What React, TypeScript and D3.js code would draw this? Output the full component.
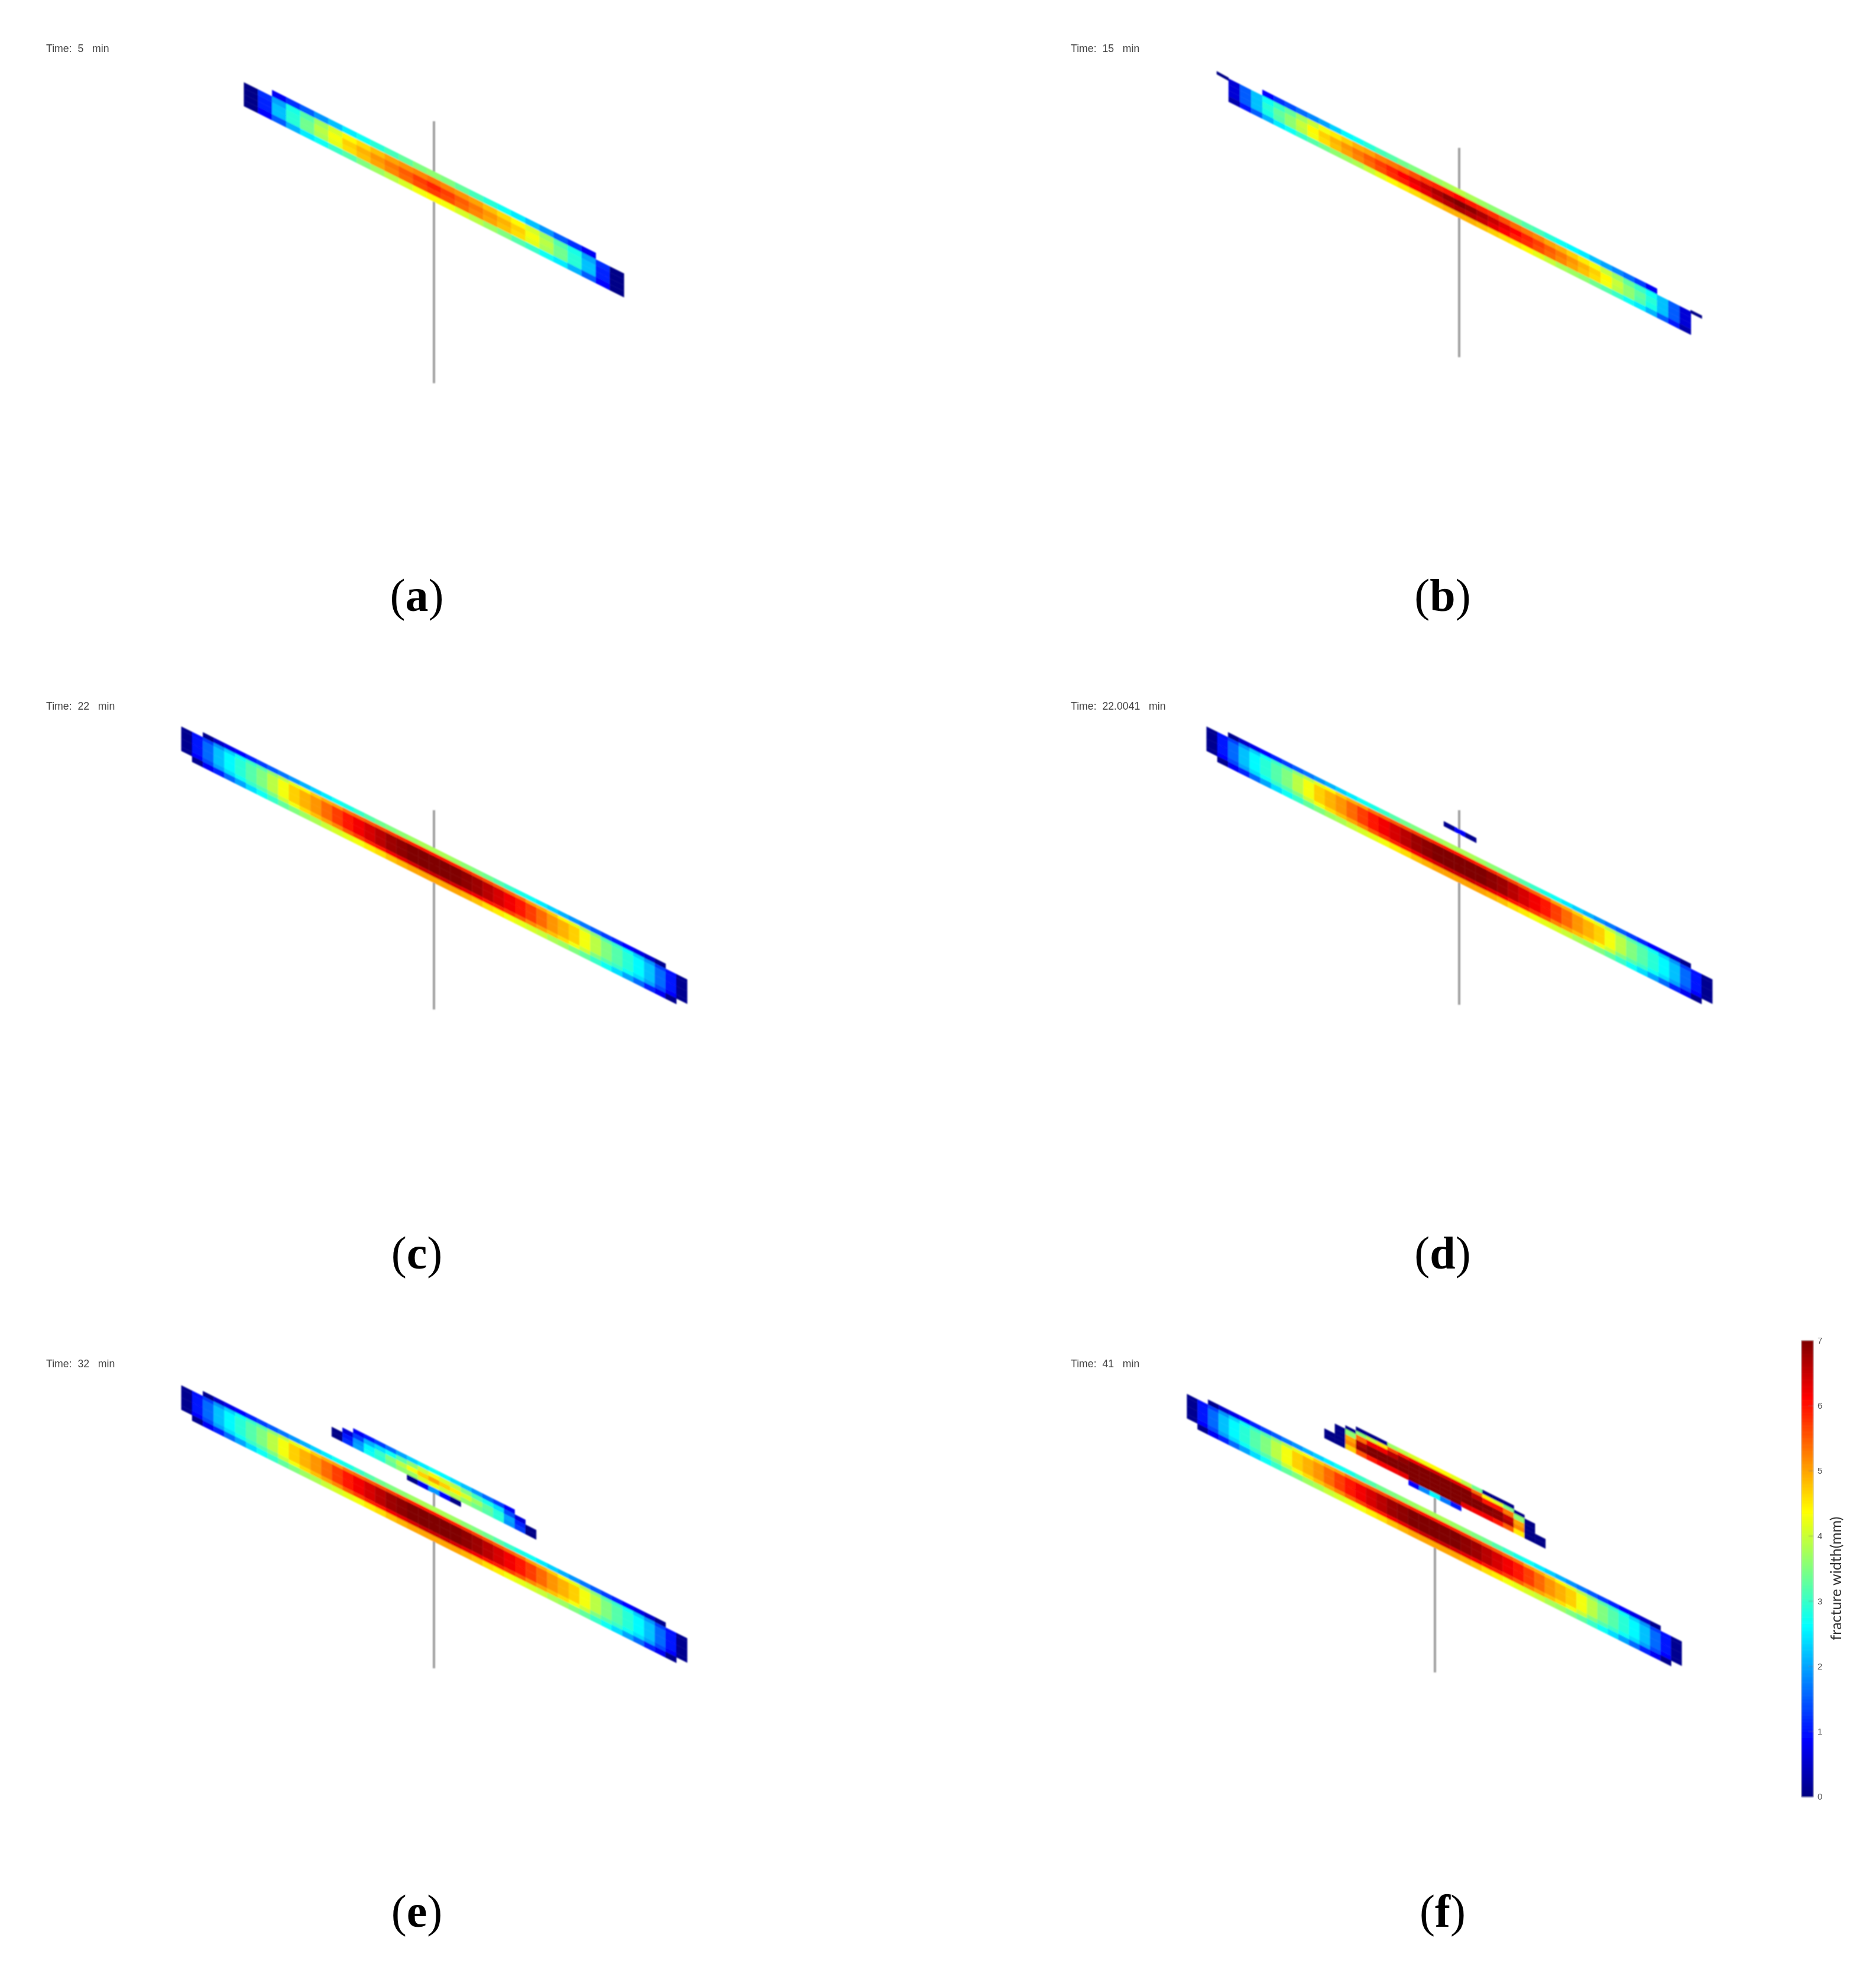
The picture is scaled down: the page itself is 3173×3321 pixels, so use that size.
import React, { useMemo } from 'react';
import * as d3 from 'd3';

const _ = null;

// fracture width (mm) per grid cell, one array per row, top row first
const aRows = [
  [_,_,.8,1.2,1.5,1.9,2.2,2.5,2.7,2.9,3.1,3.3,3.5,3.6,3.5,3.3,3.1,2.9,2.7,2.5,2.2,1.9,1.5,1.2,.8,_,_],
  [.05,1.2,2.0,2.8,3.2,3.7,4.1,4.4,4.6,4.8,5.0,5.1,5.2,5.3,5.2,5.1,5.0,4.8,4.6,4.4,4.1,3.7,3.2,2.8,2.0,1.2,.05],
  [.05,1.1,2.2,2.9,3.4,3.9,4.3,4.7,4.9,5.1,5.3,5.5,5.7,5.9,5.7,5.5,5.3,5.1,4.9,4.7,4.3,3.9,3.4,2.9,2.2,1.1,.05],
  [.05,1.1,2.2,2.9,3.4,3.8,4.2,4.6,4.8,5.0,5.2,5.4,5.6,5.7,5.6,5.4,5.2,5.0,4.8,4.6,4.2,3.8,3.4,2.9,2.2,1.1,.05],
  [.05,.9,1.5,2.1,2.5,2.7,3.0,3.2,3.5,3.7,3.9,4.1,4.3,4.4,4.3,4.1,3.9,3.7,3.5,3.2,3.0,2.7,2.5,2.1,1.5,.9,.05],
];

const bRows = [
  [_,_,_,.9,1.2,1.4,1.6,1.8,2.0,2.3,2.6,2.7,2.9,3.1,3.2,3.4,3.5,3.6,3.7,3.8,3.9,3.8,3.7,3.6,3.5,3.4,3.2,3.1,2.9,2.7,2.6,2.5,2.2,2.0,1.8,1.6,1.3,.8,_,_,_],
  [.6,1.5,2.2,2.7,3.0,3.3,3.7,4.0,4.3,4.5,4.7,4.9,5.0,5.2,5.3,5.4,5.6,5.8,5.9,6.0,6.1,6.0,5.9,5.8,5.6,5.4,5.3,5.2,5.0,4.9,4.7,4.5,4.3,4.0,3.7,3.3,3.0,2.7,2.2,1.5,.6],
  [.6,1.5,2.2,2.9,3.3,3.6,4.0,4.4,4.7,4.9,5.1,5.3,5.5,5.7,5.9,6.1,6.3,6.5,6.7,6.9,7,6.9,6.7,6.5,6.3,6.1,5.9,5.7,5.5,5.3,5.1,4.9,4.7,4.4,4.0,3.6,3.3,2.9,2.2,1.5,.6],
  [.6,1.5,2.2,2.8,3.2,3.6,3.9,4.3,4.6,4.8,5.0,5.2,5.4,5.6,5.8,5.9,6.1,6.3,6.5,6.6,6.7,6.6,6.5,6.3,6.1,5.9,5.8,5.6,5.4,5.2,5.0,4.8,4.6,4.3,3.9,3.6,3.2,2.8,2.2,1.5,.6],
  [.3,1.0,1.5,2.1,2.5,2.7,3.0,3.2,3.4,3.6,3.7,3.8,4.0,4.2,4.4,4.5,4.6,4.7,4.8,4.9,4.9,4.9,4.8,4.7,4.6,4.5,4.4,4.2,4.0,3.8,3.7,3.6,3.4,3.2,3.0,2.7,2.5,2.1,1.5,1.0,.3],
];
const bTipRows = [[.05]];

// panels c, d, e and the long fracture of f show the same main fracture
const mainRows = [
  [_,_,.1,.5,.7,.9,1.1,1.3,1.5,1.7,1.9,2.1,2.3,2.5,2.7,2.8,3.0,3.2,3.4,3.5,3.6,3.7,3.8,3.8,3.8,3.7,3.6,3.5,3.4,3.2,3.0,2.8,2.7,2.5,2.3,2.1,1.9,1.7,1.5,1.3,1.1,.9,.7,.5,.1,_,_],
  [.1,.95,1.3,1.9,2.3,2.7,3.0,3.2,3.6,3.9,4.2,4.4,4.7,4.9,5.0,5.3,5.4,5.5,5.6,5.7,5.8,5.9,6.0,6.0,6.0,5.9,5.8,5.7,5.6,5.5,5.4,5.3,5.0,4.9,4.7,4.4,4.2,3.9,3.6,3.2,3.0,2.7,2.3,1.9,1.3,.95,.1],
  [.1,1.0,1.6,2.2,2.6,2.9,3.2,3.5,3.9,4.3,4.7,4.9,5.1,5.4,5.7,6.0,6.2,6.4,6.6,6.8,6.9,7,7,7,7,7,6.9,6.8,6.6,6.4,6.2,6.0,5.7,5.4,5.1,4.9,4.7,4.3,3.9,3.5,3.2,2.9,2.6,2.2,1.6,1.0,.1],
  [.1,1.0,1.6,2.2,2.6,2.9,3.2,3.5,3.9,4.3,4.7,4.9,5.1,5.4,5.7,6.0,6.2,6.4,6.6,6.8,6.9,7,7,7,7,7,6.9,6.8,6.6,6.4,6.2,6.0,5.7,5.4,5.1,4.9,4.7,4.3,3.9,3.5,3.2,2.9,2.6,2.2,1.6,1.0,.1],
  [.1,.9,1.4,2.0,2.4,2.7,3.0,3.2,3.5,4.0,4.3,4.6,4.8,5.0,5.2,5.5,5.7,5.9,6.0,6.2,6.3,6.4,6.5,6.5,6.5,6.4,6.3,6.2,6.0,5.9,5.7,5.5,5.2,5.0,4.8,4.6,4.3,4.0,3.5,3.2,3.0,2.7,2.4,2.0,1.4,.9,.1],
  [_,.1,.8,1.1,1.6,2.0,2.4,2.7,3.0,3.3,3.5,3.7,3.8,4.0,4.1,4.2,4.3,4.5,4.6,4.8,4.9,5.0,5.0,5.0,5.0,5.0,4.9,4.8,4.6,4.5,4.3,4.2,4.1,4.0,3.8,3.7,3.5,3.3,3.0,2.7,2.4,2.0,1.6,1.1,.8,.1,_],
];

const dBarRows = [[.1,.9,.1]];

const eUpperRows = [
  [_,_,.8,1.0,1.3,1.6,2.0,2.3,2.5,2.7,2.6,2.4,2.2,1.9,1.6,1.3,.8,_,_],
  [_,.6,1.3,2.1,2.4,2.7,3.2,3.6,4.0,4.3,4.1,3.9,3.5,3.1,2.8,2.4,1.4,.6,_],
  [.05,1.0,1.9,2.6,3.0,3.5,3.9,4.3,4.7,5.0,4.7,4.5,4.1,3.7,3.3,2.9,2.0,1.1,.05],
  [.05,1.2,2.0,2.7,2.9,3.3,3.6,3.7,4.1,4.3,4.0,3.9,3.6,3.4,3.2,2.9,1.9,1.3,.05],
  [_,_,_,_,_,_,_,.05,.8,1.9,.9,.05,_,_,_,_,_,_,_],
];

const fUpperRows = [
  [_,_,_,.05,.05,.05,3.7,3.9,4.1,4.3,4.4,4.4,4.2,3.9,3.4,.05,.05,.05,_,_,_],
  [_,_,.05,3.6,4.0,4.5,5.6,6.0,6.2,6.3,6.4,6.4,6.3,6.2,5.4,4.4,4.2,3.5,.05,_,_],
  [_,.05,3.6,5.4,6.2,6.2,6.6,6.9,7,7,7,7,7,7,6.6,6.0,6.0,5.3,3.6,.05,_],
  [_,.05,5.0,6.7,7,7,7,7,7,7,7,7,7,7,7,7,6.9,6.5,5.0,.05,_],
  [.05,.05,5.2,6.9,7,7,7,7,7,7,7,7,7,7,7,6.9,6.9,6.7,5.2,.05,.05],
  [.05,.05,4.7,5.6,6.0,6.2,6.2,6.3,7,7,7,7,7,6.3,6.2,6.2,6.0,5.5,4.5,.05,.05],
  [_,_,_,_,_,_,_,_,.9,1.8,2.6,1.7,1.0,_,_,_,_,_,_,_,_],
];

const panelLetters = ['a', 'b', 'c', 'd', 'e', 'f'];
const panelTimes = ['5', '15', '22', '22.0041', '32', '41'];
const colorTicks = [0, 1, 2, 3, 4, 5, 6, 7];

const WIDTH = 3173;
const HEIGHT = 3321;

const mainHeights = [8.5, 6, 14, 14, 7, 9.5];

const fractures = [
  { rows: aRows, heights: [11, 10, 10, 10, 10], cx: 734, cy: 290, colW: 23.8, slope: 0.503 },
  { rows: bRows, heights: [10, 10, 10, 10, 9], cx: 2469, cy: 320, colW: 19.07, slope: 0.504 },
  { rows: bTipRows, heights: [5], cx: 2068, cy: 126, colW: 20, slope: 0.55 },
  { rows: bTipRows, heights: [5], cx: 2869, cy: 529, colW: 19, slope: 0.5 },
  { rows: mainRows, heights: mainHeights, cx: 734.5, cy: 1434, colW: 18.2, slope: 0.5 },
  { rows: mainRows, heights: mainHeights, cx: 2468.5, cy: 1434, colW: 18.2, slope: 0.5 },
  { rows: dBarRows, heights: [8], cx: 2469.5, cy: 1403, colW: 18.3, slope: 0.52 },
  { rows: mainRows, heights: mainHeights, cx: 734.5, cy: 2548, colW: 18.2, slope: 0.5 },
  { rows: eUpperRows, heights: [8, 8, 8, 8, 9], cx: 734, cy: 2484, colW: 18.2, slope: 0.504 },
  { rows: mainRows, heights: mainHeights, cx: 2426, cy: 2558, colW: 17.8, slope: 0.5 },
  { rows: fUpperRows, heights: [7, 6, 9, 8, 8, 8, 8], cx: 2427, cy: 2479, colW: 17.8, slope: 0.5 },
];

const wells = [
  { x: 734, y0: 205, y1: 648 },
  { x: 2468, y0: 250, y1: 604 },
  { x: 734, y0: 1370, y1: 1707 },
  { x: 2468, y0: 1370, y1: 1699 },
  { x: 734, y0: 2500, y1: 2821 },
  { x: 2427, y0: 2530, y1: 2828 },
];

const jet = d3.scaleLinear<string>()
  .domain([0, 0.875, 2.625, 4.375, 6.125, 7])
  .range(['#000080', '#0000ff', '#00ffff', '#ffff00', '#ff0000', '#800000'])
  .interpolate(d3.interpolateRgb)
  .clamp(true);

function fractureCells(f) {
  const n = f.rows[0].length;
  const x = d3.scaleLinear().domain([0, n]).range([f.cx - n * f.colW / 2, f.cx + n * f.colW / 2]);
  const top = d3.scaleLinear().domain([f.cx, f.cx + 100]).range([f.cy, f.cy + 100 * f.slope]);
  const offs = d3.cumsum([0, ...f.heights]);
  const outline = d3.line().curve(d3.curveLinearClosed);
  const cells = [];
  f.rows.forEach((row, r) => {
    row.forEach((v, c) => {
      if (v === null) return;
      const x0 = x(c);
      const x1 = x(c + 1);
      cells.push({
        d: outline([
          [x0, top(x0) + offs[r]],
          [x1, top(x1) + offs[r]],
          [x1, top(x1) + offs[r + 1]],
          [x0, top(x0) + offs[r + 1]],
        ]),
        fill: jet(v),
      });
    });
  });
  return cells;
}

function ColorBar() {
  const y = d3.scaleLinear().domain([0, 7]).range([3038, 2267]);
  const steps = d3.range(0, 7, 0.05);
  return (
    <g>
      <g filter="url(#soft)">
        {steps.map((v) => (
          <rect key={v} x={3047} width={20} y={y(v + 0.05)} height={y(v) - y(v + 0.05) + 0.6} fill={jet(v + 0.025)} />
        ))}
        {colorTicks.slice(1, 7).map((t) => (
          <line key={t} x1={3059} x2={3067} y1={y(t)} y2={y(t)} stroke="#666" strokeOpacity={0.6} strokeWidth={1} />
        ))}
      </g>
      <rect x={3047} y={2267} width={20} height={771} fill="none" stroke="#999" strokeOpacity={0.5} strokeWidth={1} />
      <g filter="url(#softText)" fontFamily="Liberation Sans" fontSize={15} fill="#555">
        {colorTicks.map((t) => (
          <text key={t} x={3074} y={y(t) + 5}>{t}</text>
        ))}
      </g>
      <text
        transform="translate(3114,2669) rotate(-90)"
        textAnchor="middle"
        fontFamily="Lato"
        fontSize={25}
        fill="#333"
        filter="url(#softText)"
      >
        fracture width(mm)
      </text>
    </g>
  );
}

export default function App() {
  const cells = useMemo(() => fractures.flatMap(fractureCells), []);
  const column = d3.scaleOrdinal<number, number>().domain([0, 1]).range([78, 1811]);
  const labelX = d3.scaleOrdinal<number, number>().domain([0, 1]).range([705, 2440]);
  const timeY = d3.scaleOrdinal<number, number>().domain([0, 1, 2]).range([88, 1200, 2312]);
  const labelY = d3.scaleOrdinal<number, number>().domain([0, 1, 2]).range([1033, 2145, 3258]);

  return (
    <svg
      width={WIDTH}
      height={HEIGHT}
      viewBox={`0 0 ${WIDTH} ${HEIGHT}`}
      style={{ position: 'absolute', left: 0, top: 0, background: '#fff' }}
    >
      <defs>
        <filter id="soft" x="-5%" y="-5%" width="110%" height="110%">
          <feGaussianBlur stdDeviation={0.8} />
        </filter>
        <filter id="softText" x="-5%" y="-5%" width="110%" height="110%">
          <feGaussianBlur stdDeviation={0.5} />
        </filter>
      </defs>

      <g filter="url(#soft)">
        {wells.map((w, i) => (
          <line key={i} x1={w.x} x2={w.x} y1={w.y0} y2={w.y1} stroke="#9e9e9e" strokeWidth={4} />
        ))}
        {cells.map((c, i) => (
          <path key={i} d={c.d} fill={c.fill} stroke={c.fill} strokeWidth={0.5} />
        ))}
      </g>

      {panelLetters.map((letter, i) => (
        <g key={letter}>
          <text
            x={column(i % 2)}
            y={timeY(Math.floor(i / 2))}
            fontFamily="Liberation Sans"
            fontSize={17.7}
            fill="#444"
            filter="url(#softText)"
            style={{ whiteSpace: 'pre' }}
          >
            {`Time:  ${panelTimes[i]}   min`}
          </text>
          <text
            x={labelX(i % 2)}
            y={labelY(Math.floor(i / 2))}
            textAnchor="middle"
            fontFamily="Liberation Serif"
            fontSize={78}
            fill="#000"
          >
            (<tspan fontWeight="bold">{letter}</tspan>)
          </text>
        </g>
      ))}

      <ColorBar />
    </svg>
  );
}
